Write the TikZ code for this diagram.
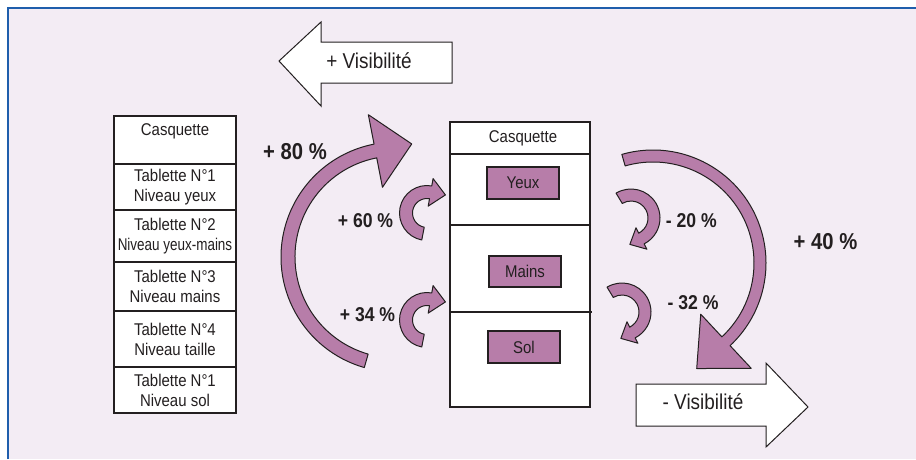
\documentclass[tikz,border=0pt]{standalone}
\usepackage{fontspec}
\usepackage{graphicx}
\setmainfont{Liberation Sans}[FakeStretch=0.88]
\definecolor{bg}{HTML}{F3ECF4}
\definecolor{frameblue}{HTML}{1F5EAC}
\definecolor{ink}{HTML}{231F20}
\definecolor{plum}{HTML}{B77DA9}

% Curved flow arrow: centre x, centre y (downwards), mid radius, half width,
% start angle, end angle, head half width, head length, turn (+1 ccw, -1 cw)
\newcommand\flowarrow[9]{%
  \begin{scope}[shift={(#1,-#2)}]
    \pgfmathsetmacro\FAout{#3+#4}
    \pgfmathsetmacro\FAin{#3-#4}
    \pgfmathsetmacro\FAhout{#3+#7}
    \pgfmathsetmacro\FAhin{#3-#7}
    \pgfmathsetmacro\FAta{#6+(#9)*atan(#8/#3)}
    \pgfmathsetmacro\FAtr{sqrt(#3*#3+#8*#8)}
    \draw[flow] (#5:\FAout) arc[start angle=#5, end angle=#6, radius=\FAout]
      -- (#6:\FAhout) -- (\FAta:\FAtr) -- (#6:\FAhin) -- (#6:\FAin)
      arc[start angle=#6, end angle=#5, radius=\FAin] -- cycle;
  \end{scope}}

\begin{document}
\begin{tikzpicture}[x=1pt,y=1pt,
  ink/.style={draw=ink, line width=1.1pt},
  cell/.style={ink, fill=white, minimum width=122pt, inner sep=0pt, outer sep=0pt,
    align=center, font=\fontsize{17}{20}\selectfont, text=ink},
  midcell/.style={ink, fill=white, minimum width=140pt, inner sep=0pt, outer sep=0pt},
  celltext/.style={font=\fontsize{17}{20}\selectfont, text=ink, inner sep=0pt},
  tag/.style={ink, fill=plum, minimum width=72pt, minimum height=32pt, inner sep=0pt,
    font=\fontsize{17}{19}\selectfont, text=ink},
  pct/.style={font=\bfseries\fontsize{20}{23}\selectfont, text=ink, inner sep=0pt},
  bigpct/.style={font=\bfseries\fontsize{23}{26}\selectfont, text=ink, inner sep=0pt},
  flow/.style={draw=ink, line width=1pt, fill=plum, line join=round},
  blockarrow/.style={draw=ink, line width=1pt, fill=white, line join=miter},
  vistext/.style={font=\fontsize{21.5}{24}\selectfont, text=ink, inner sep=0pt}]

\useasboundingbox (0,0) rectangle (916,-459);

% panel background and frame
\fill[bg] (8,-8) rectangle (916,-459);
\draw[frameblue, line width=1.6pt] (8,-459) -- (8,-8) -- (916,-8);

% left column: shelf levels
\node[cell, minimum height=48pt] (l0) at (175,-140) {};
\node[celltext] (l0t) at (175,-131) {Casquette};
\node[cell, minimum height=46pt] (l1) at (175,-187) {Tablette N°1\\Niveau yeux};
\node[cell, minimum height=52pt] (l2) at (175,-236) {Tablette N°2\\\scalebox{0.9}[1]{Niveau yeux-mains}};
\node[cell, minimum height=49pt] (l3) at (175,-286.5) {Tablette N°3\\Niveau mains};
\node[cell, minimum height=56pt] (l4) at (175,-339) {Tablette N°4\\Niveau taille};
\node[cell, minimum height=46pt] (l5) at (175,-390) {Tablette N°1\\Niveau sol};

% middle column: zones
\node[midcell, minimum height=32pt] (m0) at (520,-138) {};
\node[celltext] (m0t) at (523,-138) {Casquette};
\node[midcell, minimum height=71pt] (m1) at (520,-189.5) {};
\node[midcell, minimum height=87pt] (m2) at (520,-268.5) {};
\node[midcell, minimum height=95pt] (m3) at (520,-359.5) {};
\draw[ink] (m3.north east) -- ++(2,0);
\node[tag] (yeux) at (523,-183) {Yeux};
\node[tag, minimum height=31pt] (mains) at (525,-271.5) {Mains};
\node[tag] (sol) at (524,-347) {Sol};

% block arrows
\draw[blockarrow] (279,-61) -- (321,-22) -- (321,-42) -- (452,-42) -- (452,-83)
  -- (321,-83) -- (321,-106) -- cycle;
\node[vistext] (plusvis) at (369,-61) {+ Visibilité};
\draw[blockarrow] (636,-384) -- (766,-384) -- (766,-363) -- (808,-407) -- (766,-447)
  -- (766,-426) -- (636,-426) -- cycle;
\node[vistext] (minusvis) at (703,-402) {- Visibilité};

% curved flow arrows
\flowarrow{396}{257}{108}{7}{254}{101}{37}{37}{-1}
\flowarrow{653}{263}{107}{6}{106}{-47}{37}{40}{-1}
\flowarrow{427}{213}{21}{6.5}{259}{80}{14}{15}{-1}
\flowarrow{427}{320}{21}{6.5}{259}{80}{14}{15}{-1}
\flowarrow{631}{218}{23}{6}{121}{-63}{12}{13}{-1}
\flowarrow{622}{312}{23}{6}{121}{-63}{12}{13}{-1}

% percentages
\node[bigpct] (p80) at (295,-152) {+ 80 \%};
\node[pct] (p60) at (365.5,-220.7) {+ 60 \%};
\node[pct] (p34) at (367.5,-315) {+ 34 \%};
\node[pct] (m20) at (691.3,-221) {- 20 \%};
\node[pct] (m32) at (693,-302.7) {- 32 \%};
\node[bigpct] (p40) at (825.5,-242) {+ 40 \%};
\end{tikzpicture}
\end{document}
